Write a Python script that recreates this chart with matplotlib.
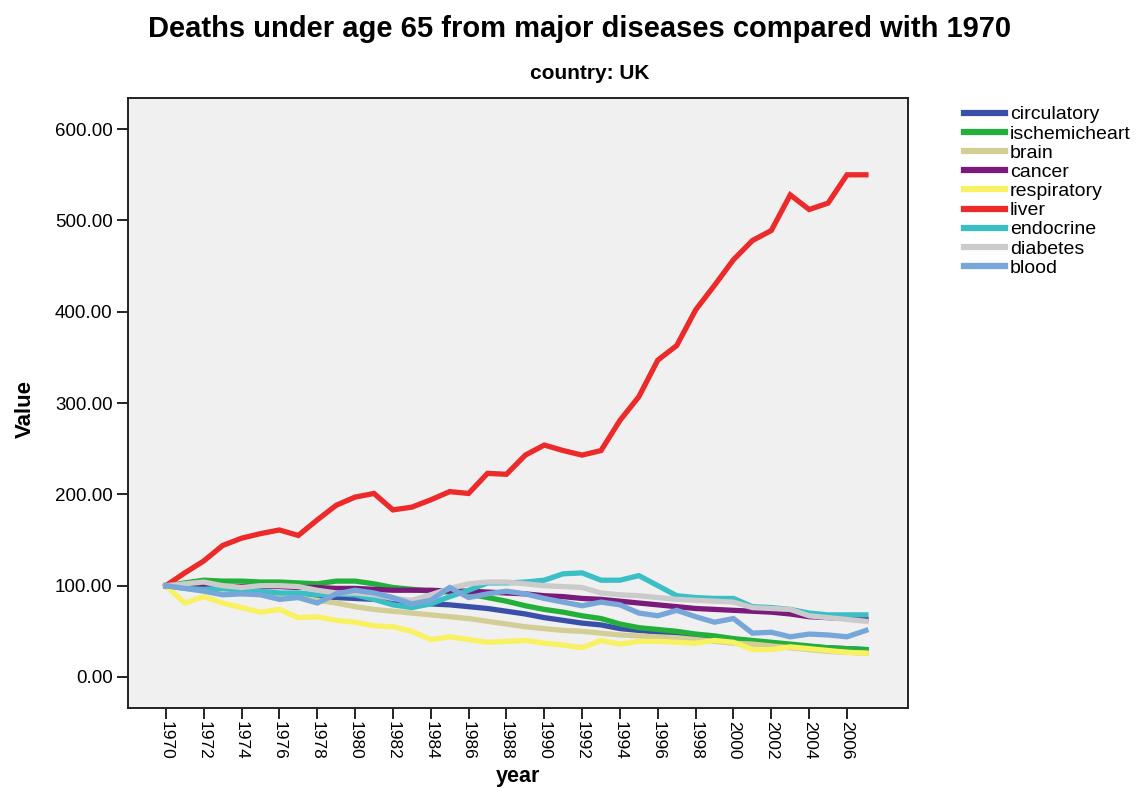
"""
Deaths under age 65 from major diseases, indexed to 1970 (UK).
Line chart redrawn from an SPSS-style figure.
"""

import numpy as np
import matplotlib
matplotlib.use("Agg")
import matplotlib.pyplot as plt

plt.rcParams["font.family"] = ["Liberation Sans", "DejaVu Sans"]

# Data (1970 = 100)
years = list(range(1970, 2008))

circulatory = [100, 98, 96, 94, 92, 91, 90, 89, 88, 87, 86, 85, 84, 82, 80, 79,
               77, 75, 72, 69, 65, 62, 59, 57, 53, 51, 49, 47, 45, 42, 40, 38,
               37, 35, 33, 32, 31, 30]
ischemicheart = [100, 103, 106, 105, 105, 104, 104, 103, 102, 105, 105, 102, 98,
                 96, 94, 93, 91, 87, 83, 78, 74, 71, 67, 64, 58, 54, 52, 50, 47,
                 45, 42, 40, 38, 36, 34, 32, 31, 30]
brain = [100, 98, 96, 94, 93, 91, 89, 87, 84, 81, 77, 74, 72, 70, 68, 66, 64, 61,
         58, 55, 53, 51, 50, 48, 46, 45, 44, 43, 41, 39, 37, 36, 34, 32, 30, 28,
         27, 26]
cancer = [100, 100, 99, 99, 99, 99, 99, 98, 98, 97, 97, 96, 95, 95, 95, 94, 94,
          93, 92, 91, 89, 88, 86, 85, 83, 81, 79, 77, 75, 74, 73, 72, 71, 69, 66,
          65, 64, 63]
respiratory = [100, 81, 88, 81, 76, 71, 74, 65, 66, 62, 60, 56, 55, 50, 41, 44,
               41, 38, 39, 40, 37, 35, 32, 40, 36, 39, 39, 38, 37, 40, 38, 30, 30,
               33, 31, 29, 27, 26]
liver = [100, 114, 127, 144, 152, 157, 161, 155, 172, 188, 197, 201, 183, 186,
         194, 203, 201, 223, 222, 243, 254, 248, 243, 248, 281, 307, 347, 363,
         402, 429, 457, 478, 489, 528, 512, 519, 550, 550]
endocrine = [100, 97, 96, 97, 95, 94, 92, 92, 90, 91, 90, 85, 79, 76, 80, 88, 95,
             103, 103, 104, 106, 113, 114, 106, 106, 111, 100, 89, 87, 86, 86, 77,
             76, 74, 70, 68, 68, 68]
diabetes = [100, 102, 104, 100, 98, 100, 100, 99, 95, 92, 92, 90, 86, 84, 90, 97,
            102, 104, 104, 102, 100, 99, 98, 92, 90, 89, 87, 85, 84, 83, 82, 76,
            75, 74, 67, 65, 63, 61]
blood = [100, 97, 94, 90, 91, 90, 85, 87, 81, 91, 95, 92, 87, 80, 84, 98, 87, 91,
         94, 91, 86, 82, 78, 82, 79, 70, 67, 73, 66, 60, 64, 48, 49, 44, 47, 46,
         44, 51]

names = ["circulatory", "ischemicheart", "brain", "cancer", "respiratory",
         "liver", "endocrine", "diabetes", "blood"]
series = [circulatory, ischemicheart, brain, cancer, respiratory,
          liver, endocrine, diabetes, blood]
colors = ["#3a4fa8", "#22b03a", "#d3cd96", "#7a1b7c", "#f8f162",
          "#ec2a2a", "#3bbfc6", "#cbcbcb", "#77a7d9"]

# Figure
fig = plt.figure(figsize=(11.43, 7.88), dpi=100)
ax = fig.add_axes([0.112, 0.1015, 0.682, 0.774])
ax.set_facecolor("#f0f0f0")

for name, vals, col in zip(names, series, colors):
    ax.plot(years, vals, color=col, lw=3.8, label=name, solid_joinstyle="miter")

ax.set_xlim(1968.0, 2009.2)
ax.set_ylim(-34, 634)
ax.set_yticks(np.arange(0, 601, 100))
ax.set_yticklabels(["%.2f" % v for v in np.arange(0, 601, 100)], fontsize=13.5)
ax.set_xticks(years[:-1:2])
ax.set_xticklabels([str(y) for y in years[:-1:2]], rotation=-90, fontsize=12.5)
ax.tick_params(axis="both", direction="out", length=8, width=1.2, pad=3)
ax.tick_params(axis="x", pad=1)

for s in ax.spines.values():
    s.set_linewidth(1.4)
    s.set_color("#222222")

ax.set_ylabel("Value", fontsize=16, fontweight="bold")
ax.yaxis.set_label_coords(-0.118, 0.49)
ax.set_xlabel("year", fontsize=15.5, fontweight="bold", va="center")
ax.xaxis.set_label_coords(0.5, -0.112)

fig.text(0.507, 0.963, "Deaths under age 65 from major diseases compared with 1970",
         ha="center", va="center", fontsize=21, fontweight="bold")
fig.text(0.516, 0.907, "country: UK", ha="center", va="center",
         fontsize=15, fontweight="bold")

leg = ax.legend(loc="upper left", bbox_to_anchor=(1.063, 1.0), frameon=False,
                fontsize=14, handlelength=2.1, handletextpad=0.25,
                labelspacing=0.08, borderaxespad=0)
for ln in leg.get_lines():
    ln.set_linewidth(4.5)

fig.savefig("out.png", dpi=100)
